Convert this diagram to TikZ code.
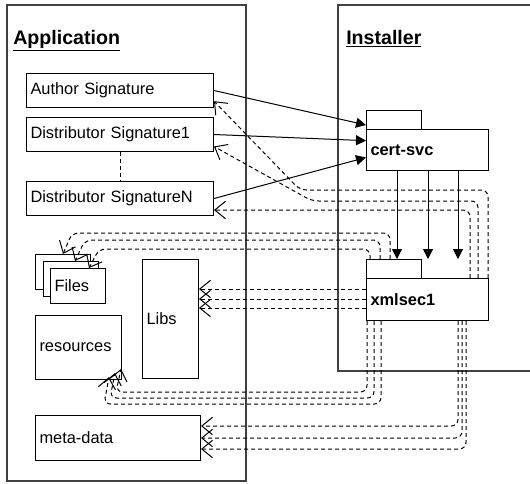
\documentclass[tikz,border=0pt]{standalone}
\usepackage{fontspec}
\setmainfont{Liberation Sans}
\usetikzlibrary{arrows.meta}

\tikzset{
  box/.style={draw, rectangle, anchor=north west, inner xsep=3pt, inner ysep=0pt, align=left, line width=0.75pt, font=\fontsize{12.3}{14}\selectfont},
  pkg/.style={box, font=\fontsize{12.3}{14}\selectfont\bfseries},
  title/.style={anchor=base west, inner sep=0pt, font=\fontsize{14.7}{17}\selectfont\bfseries},
  frame/.style={draw=black!75, line width=1pt},
  call/.style={-{Triangle[length=7.5pt,width=7.5pt]}, line width=0.75pt},
  back/.style={-{Straight Barb[length=8pt,width=13pt]}, dash pattern=on 3pt off 2.25pt, line width=0.75pt, rounded corners=5pt},
}

\begin{document}
\begin{tikzpicture}[x=0.75pt,y=0.75pt,yscale=-1]
\useasboundingbox (0,0) rectangle (530,483);

%Shape: Rectangle
\draw[frame] (7,5) rectangle (246,481);
%Straight Lines
\draw[frame] (530,5) -- (338,5) -- (338,371) -- (530,371);

\node[title] (apptitle) at (13,44) {\underline{Application}};
\node[title] (insttitle) at (346,44) {\underline{Installer}};

%Shape: Rectangle
\node[box, text width=134.25pt, minimum height=25.5pt] (author) at (26,73) {Author Signature};
\node[box, text width=134.25pt, minimum height=25.5pt] (sig1) at (26,117) {Distributor Signature1};
\node[box, text width=134.25pt, minimum height=25.5pt] (sigN) at (26,181) {Distributor SignatureN};
\draw[dash pattern=on 3pt off 2.25pt, line width=0.75pt] (sig1.south) -- (sigN.north);

%Shape: Files
\node[box, fill=white, text width=35.25pt, minimum height=26.25pt] (file1) at (35,254) {};
\node[box, fill=white, text width=35.25pt, minimum height=26.25pt] (file2) at (42.5,261) {};
\node[box, fill=white, text width=35.25pt, minimum height=26.25pt] (file3) at (50,268) {Files};

\node[box, text width=36pt, minimum height=89.25pt] (libs) at (142,259) {Libs};
\node[box, text width=58.5pt, minimum height=48pt] (resources) at (35,315) {resources};
\node[box, text width=117.75pt, minimum height=33.75pt] (metadata) at (35,415) {meta-data};

%Shape: Package
\node[pkg, text width=85.5pt, minimum height=30.75pt] (certsvc) at (366,129) {cert-svc};
\draw[line width=0.75pt] (certsvc.north west) rectangle (421,110);
\coordinate (certtab) at (393.5,110);
\node[pkg, text width=85.5pt, minimum height=31.5pt] (xmlsec) at (366,278) {xmlsec1};
\draw[line width=0.75pt] (xmlsec.north west) rectangle (421,259);
\coordinate (xmltab) at (393.5,259);

%Straight Lines
\draw[call] (author.east) -- ([yshift=-3pt]certsvc.north west);
\draw[call] (sig1.east) -- ([yshift=-7pt]certsvc.west);
\draw[call] (sigN.east) -- ([yshift=5.6pt]certsvc.west);
\foreach \x in {397,428,458}
  \draw[call] (certsvc.south -| \x,0) -- (xmltab -| \x,0);

%Dashed Lines
\draw[back] (xmlsec.north -| 488,0) -- (488,190) -- (300,190) -- ([yshift=8pt]author.east);
\draw[back] (xmlsec.north -| 478,0) -- (478,201) -- (312,201) -- ([yshift=9pt]sig1.east);
\draw[back] (xmlsec.north -| 470,0) -- (470,210) -- (sigN.east |- 0,210);

\draw[back] (xmltab -| 390,0) -- (390,233) -- (72,233) -- (file1.north);
\draw[back] (xmltab -| 380,0) -- (380,240) -- (85,240) -- (file2.north -| 75,0);
\draw[back] (xmltab -| 370,0) -- (370,249) -- (99,249) -- (file3.north -| 89,0);

\foreach \y in {289,299,308}
  \draw[back] (xmlsec.west |- 0,\y) -- (libs.east |- 0,\y);

\draw[back] (xmlsec.south -| 381,0) -- (381,404) -- (104,404) -- ([xshift=-9.75pt,yshift=-2.25pt]resources.south east);
\draw[back] (xmlsec.south -| 374,0) -- (374,398) -- (110,398) -- ([xshift=-5.25pt,yshift=-5.25pt]resources.south east);
\draw[back] (xmlsec.south -| 367,0) -- (367,392) -- (116,392) -- ([xshift=-0.75pt,yshift=-8.25pt]resources.south east);

\foreach \x/\y in {458/426,462/438,466/449}
  \draw[back] (xmlsec.south -| \x,0) -- (\x,\y) -- (metadata.east |- 0,\y);

\end{tikzpicture}
\end{document}
